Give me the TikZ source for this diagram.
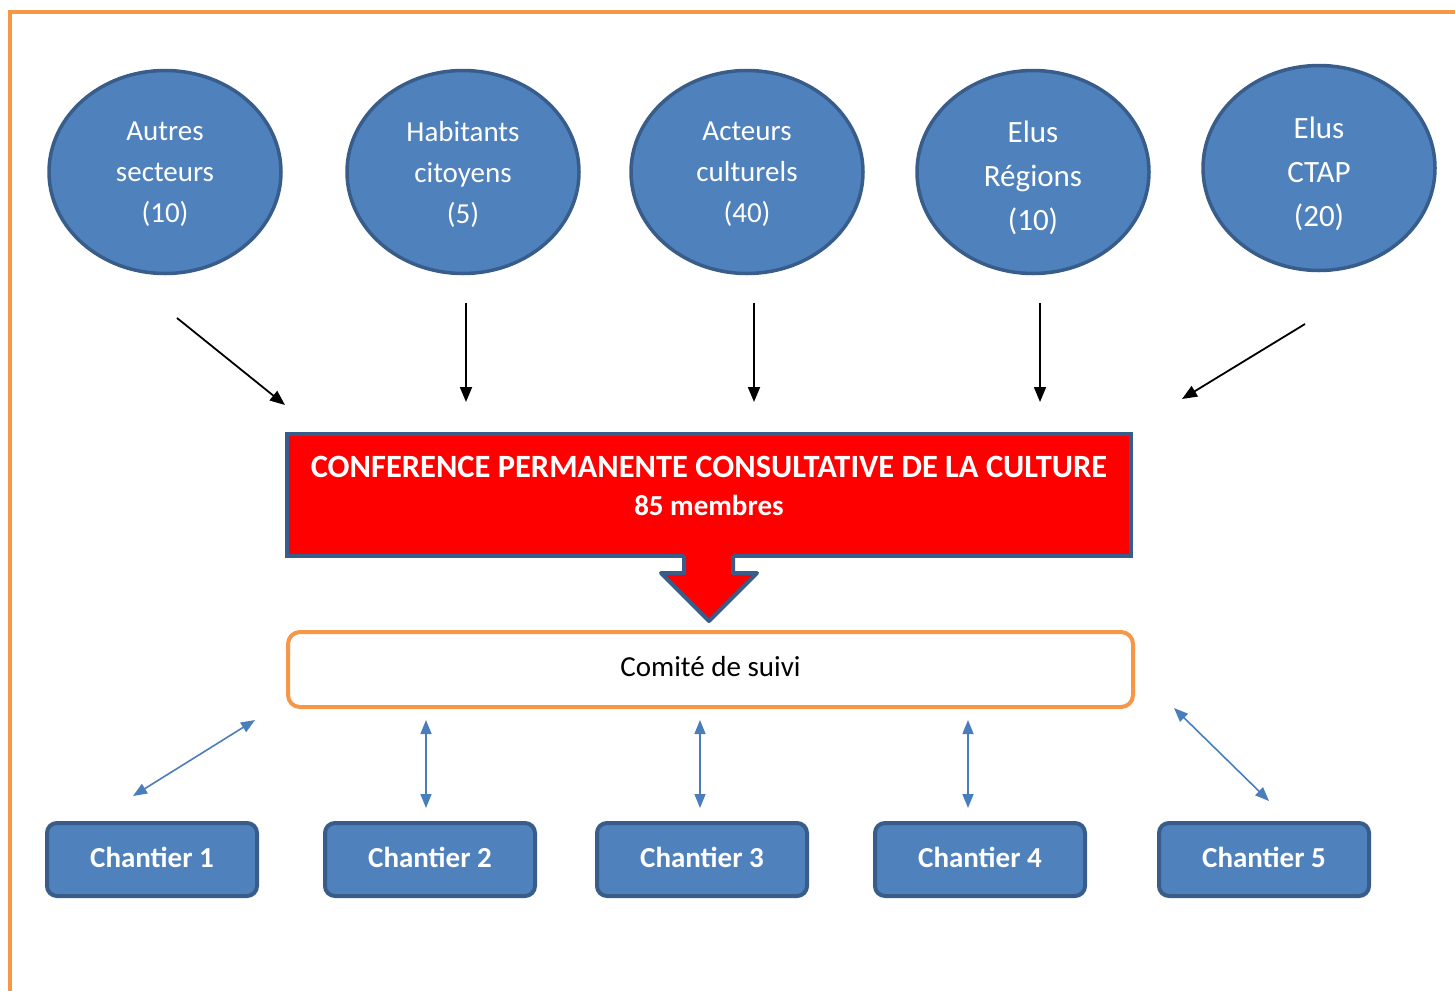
\documentclass[tikz,border=0pt]{standalone}
\usepackage{fontspec}
\setmainfont{Carlito}
\usetikzlibrary{arrows.meta,shapes.geometric}
\definecolor{ellfill}{HTML}{4F81BD}
\definecolor{ellborder}{HTML}{385D8A}
\definecolor{orangeb}{HTML}{F79646}
\definecolor{arrowblue}{HTML}{4A7EBB}
\definecolor{redbox}{HTML}{FF0000}
\begin{document}
\begin{tikzpicture}[x=1pt,y=-1pt,
  ell/.style={ellipse, draw=ellborder, fill=ellfill, line width=3.5pt, minimum width=232pt, minimum height=203pt, inner sep=0pt},
  elltext/.style={text=white, align=center, inner sep=0pt, font=\fontsize{29}{41}\selectfont},
  elltextb/.style={text=white, align=center, inner sep=0pt, font=\fontsize{31}{44}\selectfont},
  chant/.style={rectangle, rounded corners=10pt, draw=ellborder, fill=ellfill, line width=4pt, minimum width=210pt, minimum height=73pt, inner sep=0pt},
  chanttext/.style={text=white, inner sep=0pt, font=\bfseries\fontsize{29}{35}\selectfont},
  blackarrow/.style={-{Triangle[length=15pt,width=12pt]}, line width=1.8pt, black},
  bluearrow/.style={{Triangle[length=14pt,width=11pt]}-{Triangle[length=14pt,width=11pt]}, line width=1.6pt, arrowblue}]
\useasboundingbox (0,0) rectangle (1455,990);
% outer frame
\draw[orangeb, line width=4pt] (10,992) -- (10,12) -- (1457,12);
% ellipses
\node[ell] (e1) at (165,172) {};
\node[ell] (e2) at (463,172) {};
\node[ell] (e3) at (747,172) {};
\node[ell] (e4) at (1033,172) {};
\node[ell, minimum height=205pt] (e5) at (1319,168) {};
\node[elltext] (e1t) at ([yshift=-2pt]e1.center) {Autres\\secteurs\\(10)};
\node[elltext] (e2t) at ([yshift=-2pt]e2.center) {Habitants\\citoyens\\(5)};
\node[elltext] (e3t) at ([yshift=-2pt]e3.center) {Acteurs\\culturels\\(40)};
\node[elltextb] (e4t) at ([yshift=-6pt]e4.center) {Elus\\Régions\\(10)};
\node[elltextb] (e5t) at ([yshift=-6pt]e5.center) {Elus\\CTAP\\(20)};
% black arrows
\coordinate (a1s) at (177,318); \coordinate (a1e) at (285,405);
\coordinate (a2s) at (466,303); \coordinate (a2e) at (466,402);
\coordinate (a3s) at (754,303); \coordinate (a3e) at (754,402);
\coordinate (a4s) at (1040,303); \coordinate (a4e) at (1040,402);
\coordinate (a5s) at (1305,324); \coordinate (a5e) at (1182,399);
\foreach \i in {1,...,5} {\draw[blackarrow] (a\i s) -- (a\i e);}
% conference box
\node[rectangle, draw=ellborder, fill=redbox, line width=4pt, minimum width=844pt, minimum height=122pt, inner sep=0pt] (conf) at (709,495) {};
\node[text=white, inner sep=0pt, font=\bfseries\fontsize{32.5}{38}\selectfont] (conftitle) at (709,467) {CONFERENCE PERMANENTE CONSULTATIVE DE LA CULTURE};
\node[text=white, inner sep=0pt, font=\bfseries\fontsize{29}{35}\selectfont] (confsub) at (709,505) {85 membres};
% down arrow
\fill[redbox] (684,553) -- (684,573) -- (661,573) -- (709,621) -- (757,573) -- (733,573) -- (733,553) -- cycle;
\draw[ellborder, line width=4pt, line join=round] (684,556) -- (684,573) -- (661,573) -- (709,621) -- (757,573) -- (733,573) -- (733,556);
% comite box
\node[rectangle, rounded corners=12pt, draw=orangeb, fill=white, line width=4pt, minimum width=845pt, minimum height=75pt, inner sep=0pt] (comite) at (710.5,669.5) {};
\node[inner sep=0pt, font=\fontsize{29}{35}\selectfont] (comitetext) at ([yshift=3pt]comite.center) {Comité de suivi};
% chantiers
\node[chant] (c1) at (152,859.5) {};
\node[chant] (c2) at (430,859.5) {};
\node[chant] (c3) at (702,859.5) {};
\node[chant] (c4) at (980,859.5) {};
\node[chant] (c5) at (1264,859.5) {};
\foreach \i in {1,...,5} {\node[chanttext] (c\i t) at ([yshift=2pt]c\i.center) {Chantier \i};}
% blue arrows
\coordinate (b1s) at (133,796); \coordinate (b1e) at (255,720);
\coordinate (b2s) at (426,808); \coordinate (b2e) at (426,720);
\coordinate (b3s) at (700,808); \coordinate (b3e) at (700,720);
\coordinate (b4s) at (968,808); \coordinate (b4e) at (968,720);
\coordinate (b5s) at (1269,801); \coordinate (b5e) at (1174,708);
\foreach \i in {1,...,5} {\draw[bluearrow] (b\i s) -- (b\i e);}
\end{tikzpicture}
\end{document}
